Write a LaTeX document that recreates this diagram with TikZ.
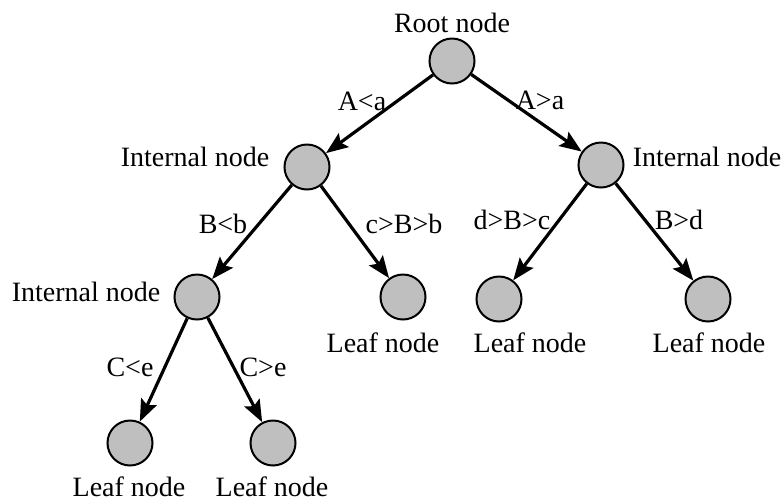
\documentclass[tikz,border=0pt]{standalone}
\usepackage{fontspec}
\setmainfont{Liberation Serif}
\usetikzlibrary{arrows.meta}
\begin{document}
\begin{tikzpicture}[x=0.5pt,y=-0.5pt,
  tnode/.style={circle,draw=black,fill=black!25,line width=1pt,minimum size=22.5pt,inner sep=0pt},
  lbl/.style={font=\fontsize{14}{16}\selectfont,inner sep=0pt},
  edge/.style={-{Stealth[length=11pt,width=8.5pt,inset=2pt]},line width=1.6pt}]
\useasboundingbox (0,0) rectangle (783,500);
\node[tnode] (r) at (452,61) {};
\node[tnode] (i1) at (307,167) {};
\node[tnode] (i2) at (601,165) {};
\node[tnode] (i3) at (197,297) {};
\node[tnode] (l1) at (403,297) {};
\node[tnode] (l2) at (499,299) {};
\node[tnode] (l3) at (708,299) {};
\node[tnode] (l4) at (130,443) {};
\node[tnode] (l5) at (273,443) {};
\node[lbl] (tr) at (452,23) {Root node};
\node[lbl] (ti1) at (195,157) {Internal node};
\node[lbl] (ti2) at (707,157) {Internal node};
\node[lbl] (ti3) at (86,292) {Internal node};
\node[lbl] (tl1) at (383,343) {Leaf node};
\node[lbl] (tl2) at (530,343) {Leaf node};
\node[lbl] (tl3) at (709,343) {Leaf node};
\node[lbl] (tl4) at (129,487) {Leaf node};
\node[lbl] (tl5) at (272,487) {Leaf node};
\draw[edge] (r) -- (i1);
\draw[edge] (r) -- (i2);
\draw[edge] (i1) -- (i3);
\draw[edge] (i1) -- (l1);
\draw[edge] (i2) -- (l2);
\draw[edge] (i2) -- (l3);
\draw[edge] (i3) -- (l4);
\draw[edge] (i3) -- (l5);
\node[lbl] (ea) at (362,101) {A<a};
\node[lbl] (eb) at (540,100) {A>a};
\node[lbl] (ec) at (223,224) {B<b};
\node[lbl] (ed) at (404,224) {c>B>b};
\node[lbl] (ee) at (512,220) {d>B>c};
\node[lbl] (ef) at (679,220) {B>d};
\node[lbl] (eg) at (130,367) {C<e};
\node[lbl] (eh) at (263,367) {C>e};
\end{tikzpicture}
\end{document}
